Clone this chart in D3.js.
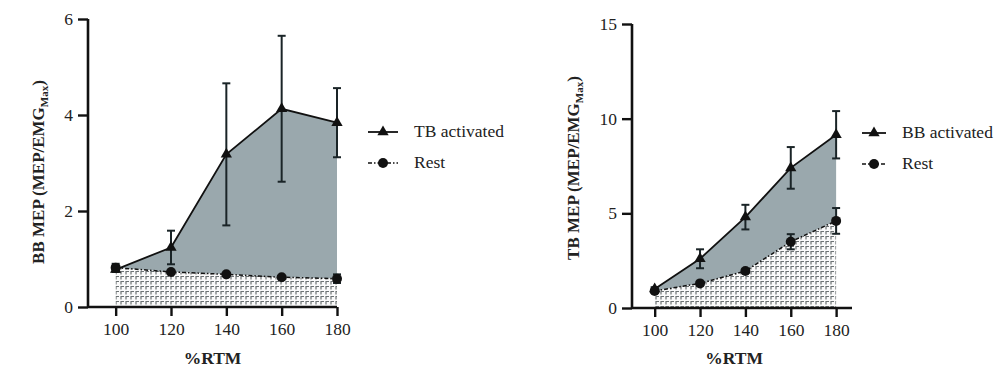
<!DOCTYPE html>
<html>
<head>
<meta charset="utf-8">
<script src="https://cdn.jsdelivr.net/npm/d3@7"></script>
<style>
  body { margin: 0; background: #fff; }
  svg { display: block; font-family: "Liberation Serif", serif; }
</style>
</head>
<body>
<script>
// ---------------------
// data
// ---------------------
var rtm = [100, 120, 140, 160, 180];

// left panel: BB MEP
var bbActive = [0.78, 1.24, 3.18, 4.13, 3.84];
var bbActiveErr = [0.05, 0.35, 1.48, 1.52, 0.72];
var bbRest = [0.82, 0.73, 0.68, 0.62, 0.59];
var bbRestErr = [0.08, 0.03, 0.02, 0.02, 0.09];
var bbTicks = [0, 2, 4, 6];

// right panel: TB MEP
var tbActive = [1.0, 2.6, 4.8, 7.4, 9.15];
var tbActiveErr = [0.1, 0.5, 0.65, 1.1, 1.25];
var tbRest = [0.9, 1.3, 1.95, 3.5, 4.6];
var tbRestErr = [0.1, 0.05, 0.1, 0.4, 0.68];
var tbTicks = [0, 5, 10, 15];

var svg = d3.select("body").append("svg")
  .attr("width", 1000).attr("height", 374);

// hatch pattern for the rest area
var defs = svg.append("defs");
var pat = defs.append("pattern")
  .attr("id", "hatch").attr("patternUnits", "userSpaceOnUse")
  .attr("width", 5).attr("height", 5);
pat.append("rect").attr("width", 5).attr("height", 5).attr("fill", "#fafafa");
pat.append("path").attr("d", "M1,4.5 V1.5 H4").attr("fill", "none")
  .attr("stroke", "#6c7274").attr("stroke-width", 1.2);

function drawPanel(cfg) {
  var g = svg.append("g");
  var x = d3.scaleLinear().domain(cfg.xDomain).range(cfg.xRange);
  var y = d3.scaleLinear().domain(cfg.yDomain).range(cfg.yRange);

  var pts = rtm.map(function(v, i) {
    return { x: v, a: cfg.active[i], ae: cfg.activeErr[i], r: cfg.rest[i], re: cfg.restErr[i] };
  });

  // shaded areas
  g.append("path").datum(pts)
    .attr("fill", "#9aa8ad")
    .attr("d", d3.area().x(function(d) { return x(d.x); })
      .y0(function(d) { return y(d.r); }).y1(function(d) { return y(d.a); }));
  g.append("path").datum(pts)
    .attr("fill", "url(#hatch)")
    .attr("d", d3.area().x(function(d) { return x(d.x); })
      .y0(y(0)).y1(function(d) { return y(d.r); }));

  // axes
  var yAxis = g.append("g").attr("transform", "translate(" + cfg.xRange[0] + ",0)")
    .call(d3.axisLeft(y).tickValues(cfg.yTicks).tickSize(10).tickPadding(5).tickFormat(d3.format("d")));
  var xAxis = g.append("g").attr("transform", "translate(0," + cfg.yRange[0] + ")")
    .call(d3.axisBottom(x).tickValues(rtm).tickSize(9).tickPadding(7));
  [xAxis, yAxis].forEach(function(ax) {
    ax.select(".domain").attr("stroke", "#111").attr("stroke-width", 2.6);
    ax.selectAll(".tick line").attr("stroke", "#111").attr("stroke-width", 2.4);
    ax.selectAll("text").attr("font-family", "Liberation Serif, serif")
      .attr("font-size", 17.5).attr("fill", "#222");
  });
  xAxis.select(".domain").attr("d", "M" + cfg.xRange[0] + ",0H" + cfg.xRange[1]);
  yAxis.select(".domain").attr("d", "M0," + cfg.yRange[0] + "V" + cfg.yRange[1]);

  // error bars
  function errBars(key, ek) {
    var eb = g.append("g").selectAll("g").data(pts).enter().append("g")
      .attr("stroke", "#1a2427").attr("stroke-width", 2);
    eb.append("line")
      .attr("x1", function(d) { return x(d.x); }).attr("x2", function(d) { return x(d.x); })
      .attr("y1", function(d) { return y(d[key] - d[ek]); })
      .attr("y2", function(d) { return y(d[key] + d[ek]); });
    [1, -1].forEach(function(s) {
      eb.append("line")
        .attr("x1", function(d) { return x(d.x) - 4; }).attr("x2", function(d) { return x(d.x) + 4; })
        .attr("y1", function(d) { return y(d[key] + s * d[ek]); })
        .attr("y2", function(d) { return y(d[key] + s * d[ek]); });
    });
  }
  errBars("a", "ae");
  errBars("r", "re");

  // lines
  g.append("path").datum(pts).attr("fill", "none")
    .attr("stroke", "#111").attr("stroke-width", 1.8)
    .attr("d", d3.line().x(function(d) { return x(d.x); }).y(function(d) { return y(d.a); }));
  g.append("path").datum(pts).attr("fill", "none")
    .attr("stroke", "#111").attr("stroke-width", 1.5).attr("stroke-dasharray", "4,2,1.5,2")
    .attr("d", d3.line().x(function(d) { return x(d.x); }).y(function(d) { return y(d.r); }));

  // markers
  var tri = d3.symbol().type(d3.symbolTriangle).size(55);
  g.append("g").selectAll("path").data(pts).enter().append("path")
    .attr("d", tri).attr("fill", "#111")
    .attr("transform", function(d) { return "translate(" + x(d.x) + "," + y(d.a) + ")"; });
  g.append("g").selectAll("circle").data(pts).enter().append("circle")
    .attr("cx", function(d) { return x(d.x); }).attr("cy", function(d) { return y(d.r); })
    .attr("r", 5).attr("fill", "#111");

  // axis titles
  g.append("text")
    .attr("x", (cfg.xRange[0] + x(180)) / 2).attr("y", 364)
    .attr("text-anchor", "middle").attr("font-weight", "bold").attr("font-size", 17.5)
    .attr("fill", "#222").text("%RTM");
  var yt = g.append("text")
    .attr("transform", "translate(" + cfg.titleX + "," + cfg.titleY + ") rotate(-90)")
    .attr("text-anchor", "middle").attr("font-weight", "bold").attr("font-size", 17)
    .attr("fill", "#222");
  yt.append("tspan").text(cfg.muscle + " MEP (MEP/EMG");
  yt.append("tspan").attr("font-size", 11).attr("dy", 4).text("Max");
  yt.append("tspan").attr("dy", -4).text(")");

  // legend
  var lg = g.append("g").attr("transform", "translate(" + cfg.legX + "," + cfg.legY + ")");
  lg.append("line").attr("x1", 0).attr("x2", cfg.legW).attr("y1", 0).attr("y2", 0)
    .attr("stroke", "#111").attr("stroke-width", 1.8);
  lg.append("path").attr("d", tri).attr("fill", "#111")
    .attr("transform", "translate(" + cfg.legW / 2 + ",0)");
  lg.append("text").attr("x", cfg.legW + 16).attr("y", 5).attr("font-size", 17.5)
    .attr("fill", "#222").text(cfg.activeLabel);
  lg.append("line").attr("x1", 0).attr("x2", cfg.legW).attr("y1", 31).attr("y2", 31)
    .attr("stroke", "#111").attr("stroke-width", 1.5).attr("stroke-dasharray", "4,2,1.5,2");
  lg.append("circle").attr("cx", cfg.legW / 2).attr("cy", 31).attr("r", 5).attr("fill", "#111");
  lg.append("text").attr("x", cfg.legW + 16).attr("y", 36).attr("font-size", 17.5)
    .attr("fill", "#222").text("Rest");
}

drawPanel({
  xDomain: [90, 180], xRange: [88, 337],
  yDomain: [0, 6], yRange: [307, 19], yTicks: bbTicks,
  active: bbActive, activeErr: bbActiveErr, rest: bbRest, restErr: bbRestErr,
  muscle: "BB", activeLabel: "TB activated",
  titleX: 44, titleY: 172,
  legX: 368, legY: 132, legW: 30
});

drawPanel({
  xDomain: [90, 187], xRange: [632, 852],
  yDomain: [0, 15], yRange: [308, 24], yTicks: tbTicks,
  active: tbActive, activeErr: tbActiveErr, rest: tbRest, restErr: tbRestErr,
  muscle: "TB", activeLabel: "BB activated",
  titleX: 579, titleY: 168,
  legX: 862, legY: 133, legW: 24
});
</script>
</body>
</html>
